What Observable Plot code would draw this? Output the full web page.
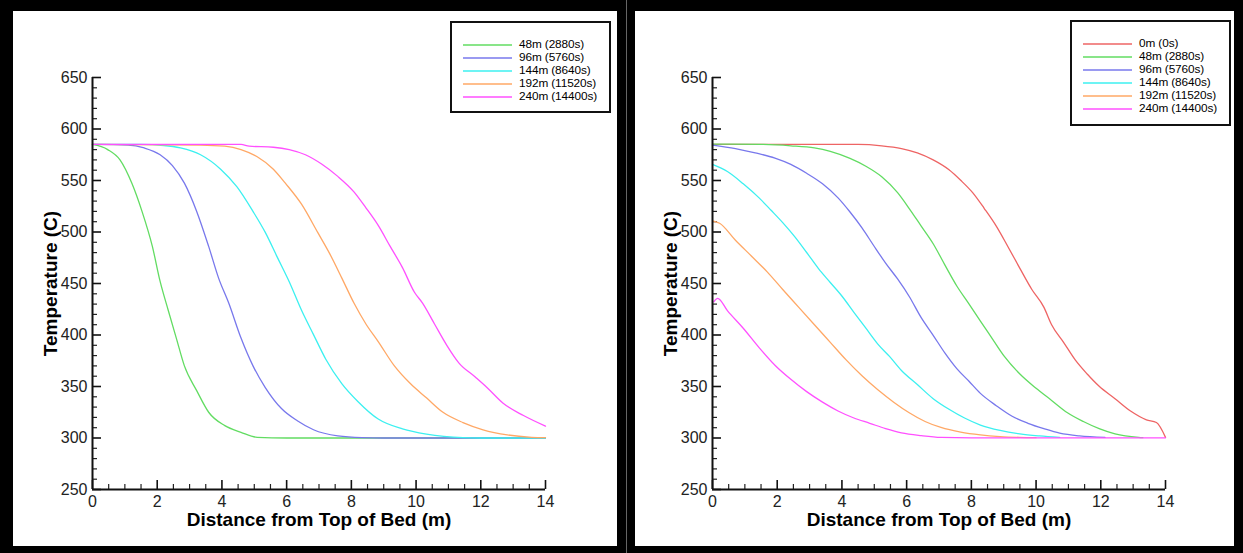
<!DOCTYPE html>
<html>
<head>
<meta charset="utf-8">
<script src="https://cdn.jsdelivr.net/npm/d3@7"></script>
<script src="https://cdn.jsdelivr.net/npm/@observablehq/plot@0.6"></script>
<style>
  html, body { margin: 0; padding: 0; }
  body { width: 1243px; height: 553px; background: #000; position: relative; overflow: hidden;
         font-family: "Liberation Sans", Arial, sans-serif; }
  .panel { position: absolute; top: 11px; height: 535px; background: #fff; }
  .panel > svg { position: absolute; left: 0; top: 0; }
  .divider { position: absolute; left: 626px; top: 0; width: 1px; height: 553px; background: #666; }
  .legend { position: absolute; border: 2px solid #111; box-sizing: border-box; background: #fff;
            padding: 15px 0 0 11px; }
  .row { display: flex; align-items: center; height: 13px; }
  .sw { display: block; margin-right: 7px; }
  .lt { font-size: 11.8px; color: #000; white-space: nowrap; line-height: 13px; letter-spacing: -0.1px; }
</style>
</head>
<body>
<div class="divider"></div>
<div class="panel" id="left" style="left:13px;width:604px;"></div>
<div class="panel" id="right" style="left:635px;width:599px;"></div>
<script>
// ---- Data ----
const xTicks = [0, 2, 4, 6, 8, 10, 12, 14];
const yTicks = [250, 300, 350, 400, 450, 500, 550, 600, 650];

const seriesColors = {
  "0m (0s)": "#ee6464",
  "48m (2880s)": "#62dc62",
  "96m (5760s)": "#7878ec",
  "144m (8640s)": "#3cf0f0",
  "192m (11520s)": "#ffa866",
  "240m (14400s)": "#ff50ff"
};

const leftLabels = ["48m (2880s)", "96m (5760s)", "144m (8640s)", "192m (11520s)", "240m (14400s)"];
const rightLabels = ["0m (0s)", "48m (2880s)", "96m (5760s)", "144m (8640s)", "192m (11520s)", "240m (14400s)"];

// Left panel series: [distance (m), temperature (C)]
const left48 = [[0,585],[0.47,580],[0.85,570],[1.22,547],[1.53,520],[1.85,486],[2.09,452],[2.34,424],[2.59,397],[2.84,370],[3.22,346],[3.59,325],[4.09,312],[4.59,305.5],[5.09,300.6],[6,300],[14,300]];
const left96 = [[0,585],[1.1,584.4],[1.6,581.6],[2.09,575],[2.47,564.5],[2.84,547.4],[3.22,520],[3.59,486],[3.9,455],[4.21,431],[4.59,397],[4.96,370],[5.34,349],[5.84,328.6],[6.33,316.7],[6.83,308],[7.58,302],[8.33,300.3],[9,300],[14,300]];
const left144 = [[0,585],[1.5,585],[2.2,584],[2.72,581.6],[3.34,575],[3.96,561],[4.46,544],[4.96,520],[5.34,499.6],[5.71,475.6],[6.08,451.7],[6.46,424],[6.83,400.4],[7.21,376.5],[7.71,352.6],[8.2,335.5],[8.83,318.4],[9.58,308.8],[10.32,303.7],[11.45,300.3],[12,300],[14,300]];
const left192 = [[0,585],[3.34,584.4],[4.09,583.3],[4.59,580],[5.09,573],[5.59,561],[5.96,547.4],[6.46,527],[6.96,499.6],[7.33,479],[7.71,455],[8.08,431],[8.45,410.7],[8.83,393.6],[9.33,370],[9.83,352.6],[10.32,339],[10.82,325.2],[11.45,315],[12.07,308],[12.82,303],[13.57,300.7],[14,300.3]];
const left240 = [[0,585],[4.59,585],[4.84,583.3],[5.59,582.3],[6.08,580],[6.58,575],[7.08,566],[7.58,554],[8.08,539],[8.45,523.5],[8.83,506.4],[9.2,486],[9.58,465.4],[9.95,441.5],[10.2,431],[10.57,410.7],[10.95,390],[11.32,373],[11.82,359.4],[12.19,349],[12.69,333.7],[13.32,321.8],[14,311.5]];

// Right panel series
const right0 = [[0,585],[4.5,585],[5.23,583.7],[5.84,581],[6.33,576.8],[6.82,570],[7.31,560.4],[7.67,550.2],[8.04,538.2],[8.4,522.8],[8.77,505.7],[9.14,485.2],[9.5,464.7],[9.87,444.2],[10.24,427.1],[10.48,410],[10.85,392.9],[11.21,375.8],[11.58,362.1],[11.95,350.2],[12.44,338.2],[12.92,326.2],[13.41,317.7],[13.72,315],[14,300.6]];
const right48 = [[0,585.4],[1.56,585],[2.42,583.7],[3.15,581.6],[3.64,578.2],[4.25,571.4],[4.74,563.8],[5.23,553.6],[5.72,538.2],[6.08,522.8],[6.45,505.7],[6.82,488.6],[7.18,468.1],[7.55,447.6],[7.92,430.5],[8.28,413.4],[8.65,396.3],[9.02,379.2],[9.5,362.1],[9.99,348.5],[10.48,336.5],[10.97,324.5],[11.46,316],[11.95,309.1],[12.44,304],[13.17,300.6],[13.3,300.3]];
const right96 = [[0,584.4],[0.71,581],[1.32,576.8],[1.93,571.7],[2.42,565.6],[2.91,557],[3.4,546.8],[3.88,533.1],[4.25,519.4],[4.62,504],[4.98,486.9],[5.35,469.8],[5.72,454.4],[6.08,437.4],[6.45,416.8],[6.82,399.7],[7.18,382.6],[7.55,367.3],[7.92,355.3],[8.28,343.3],[8.77,331.4],[9.26,321.1],[9.75,314.3],[10.24,309.1],[10.73,304.7],[11.34,302],[12.13,300.6]];
const right144 = [[0,565.6],[0.46,558.7],[0.95,546.8],[1.44,533.1],[1.81,521.1],[2.17,509.1],[2.54,495.5],[2.91,480.1],[3.27,464.7],[3.64,451],[4.01,437.4],[4.37,422],[4.74,406.6],[5.11,391.2],[5.47,379.2],[5.84,365.6],[6.33,351.9],[6.82,338.2],[7.31,327.9],[7.79,319.4],[8.28,312.6],[8.89,307.4],[9.5,304],[10.11,302],[10.73,300.6]];
const right192 = [[0,510.9],[0.22,508.5],[0.71,492],[1.2,476.7],[1.69,461.3],[2.17,444.2],[2.66,427.1],[3.15,410],[3.64,392.9],[4.13,375.8],[4.62,360.4],[5.11,346.8],[5.6,334.8],[6.08,324.5],[6.57,316],[7.06,310.2],[7.67,305.7],[8.28,303],[8.89,301.4],[9.5,300.6],[10,300.3]];
const right240 = [[0.04,432.2],[0.16,435.6],[0.46,423.7],[0.95,406.6],[1.44,387.8],[1.93,370.7],[2.42,357],[2.91,345],[3.4,334.8],[3.88,326.2],[4.37,319.4],[4.86,314.3],[5.35,309.1],[5.84,305],[6.45,302.3],[7.06,300.6],[8,300.2],[14,300.2]];

const leftSeries = [left48, left96, left144, left192, left240];
const rightSeries = [right0, right48, right96, right144, right192, right240];

// ---- Drawing ----
const xMinor = d3.range(0, 14.001, 0.5).filter(v => !xTicks.includes(v));
const yMinor = d3.range(250, 650.001, 10).filter(v => !yTicks.includes(v));

function makeChart(series, labels, width, mLeft, mRight) {
  const marks = [];
  // minor ticks
  marks.push(Plot.axisX({ticks: xMinor, tickSize: -5, tickFormat: () => "", label: null, stroke: "#222", strokeWidth: 1.2}));
  marks.push(Plot.axisY({ticks: yMinor, tickSize: -5, tickFormat: () => "", label: null, stroke: "#222", strokeWidth: 1.2}));
  // major ticks + labels
  marks.push(Plot.axisX({ticks: xTicks, tickSize: -9, tickPadding: 15, label: null, fontSize: 16, fill: "#222", stroke: "#111", strokeWidth: 1.6}));
  marks.push(Plot.axisY({ticks: yTicks, tickSize: -9, tickPadding: 14, label: null, fontSize: 16, fill: "#222", stroke: "#111", strokeWidth: 1.6}));
  // curves
  series.forEach((s, i) => {
    marks.push(Plot.line(s, {x: d => d[0], y: d => d[1], stroke: seriesColors[labels[i]], strokeWidth: 1.3, curve: "monotone-x"}));
  });
  // axis lines
  marks.push(Plot.ruleX([0], {stroke: "#111", strokeWidth: 2}));
  marks.push(Plot.ruleY([250], {stroke: "#111", strokeWidth: 2}));
  // axis titles
  marks.push(Plot.text(["Distance from Top of Bed (m)"], {frameAnchor: "bottom", lineAnchor: "middle", textAnchor: "middle", dy: 30, fontSize: 19, fontWeight: "bold", fill: "#000"}));
  marks.push(Plot.text(["Temperature (C)"], {frameAnchor: "left", lineAnchor: "middle", textAnchor: "middle", rotate: -90, dx: -42, fontSize: 19, fontWeight: "bold", fill: "#000"}));
  return Plot.plot({
    width: width,
    height: 535,
    marginLeft: mLeft,
    marginRight: mRight,
    marginTop: 66,
    marginBottom: 57,
    x: {domain: [0, 14]},
    y: {domain: [250, 650]},
    style: {fontFamily: "'Liberation Sans', Arial, sans-serif", background: "transparent", overflow: "visible"},
    marks
  });
}

function makeLegend(labels, left, top, w, h) {
  const div = document.createElement("div");
  div.className = "legend";
  div.style.left = left + "px";
  div.style.top = top + "px";
  div.style.width = w + "px";
  div.style.height = h + "px";
  const ns = "http://www.w3.org/2000/svg";
  labels.forEach(l => {
    const row = document.createElement("div");
    row.className = "row";
    const sw = document.createElementNS(ns, "svg");
    sw.setAttribute("width", "49");
    sw.setAttribute("height", "4");
    sw.setAttribute("class", "sw");
    const ln = document.createElementNS(ns, "line");
    ln.setAttribute("x1", "0"); ln.setAttribute("x2", "49");
    ln.setAttribute("y1", "2"); ln.setAttribute("y2", "2");
    ln.setAttribute("stroke", seriesColors[l]);
    ln.setAttribute("stroke-width", "1.5");
    sw.appendChild(ln);
    const t = document.createElement("span");
    t.className = "lt";
    t.textContent = l;
    row.appendChild(sw);
    row.appendChild(t);
    div.appendChild(row);
  });
  return div;
}

const leftPanel = document.getElementById("left");
leftPanel.appendChild(makeChart(leftSeries, leftLabels, 604, 79, 72));
leftPanel.appendChild(makeLegend(leftLabels, 437, 10, 161, 92));

const rightPanel = document.getElementById("right");
rightPanel.appendChild(makeChart(rightSeries, rightLabels, 599, 77, 69));
rightPanel.appendChild(makeLegend(rightLabels, 435, 9, 161, 106));
</script>
</body>
</html>
